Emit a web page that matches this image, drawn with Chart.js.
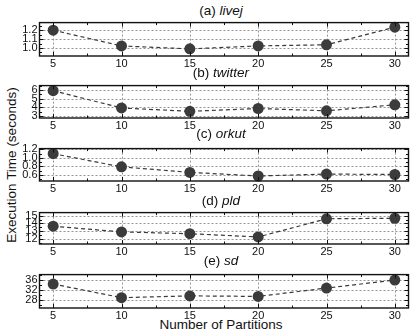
<!DOCTYPE html>
<html>
<head>
<meta charset="utf-8">
<script src="https://cdn.jsdelivr.net/npm/chart.js@4"></script>
<style>
  body { margin: 0; background: #fff; }
  #wrap { position: relative; width: 414px; height: 335px; overflow: hidden; font-family: "Liberation Sans", Arial, sans-serif; color: #111; }
  canvas { position: absolute; left: 0; }
  .ttl { position: absolute; left: 0; width: 442px; text-align: center; font-size: 13.5px; line-height: 14px; }
  #ytitle { position: absolute; left: 11px; top: 165px; font-size: 13.5px; white-space: nowrap; transform: translate(-50%, -50%) rotate(-90deg); }
  #xtitle { position: absolute; left: 0; width: 442px; top: 318px; text-align: center; font-size: 13.5px; line-height: 14px; }
</style>
</head>
<body>
<div id="wrap">
  <div id="ytitle">Execution Time (seconds)</div>
  <div id="xtitle">Number of Partitions</div>
</div>
<script>
const partitions = [5, 10, 15, 20, 25, 30];

const livejTimes = [1.20, 1.023, 0.99, 1.023, 1.036, 1.233];
const twitterTimes = [5.93, 3.93, 3.54, 3.87, 3.60, 4.30];
const orkutTimes = [1.10, 0.79, 0.66, 0.575, 0.62, 0.61];
const pldTimes = [13.64, 12.90, 12.67, 12.25, 14.60, 14.67];
const sdTimes = [34.4, 29.0, 29.7, 29.5, 32.8, 36.0];

const livejTicks = ["1.0", "1.1", "1.2"];
const twitterTicks = ["3", "4", "5", "6"];
const orkutTicks = ["0.6", "0.8", "1.0", "1.2"];
const pldTicks = ["12", "13", "14", "15"];
const sdTicks = ["28", "32", "36"];

const panels = [
  { tag: "(a)", name: "livej", data: livejTimes, ticks: livejTicks, min: 0.91, max: 1.285, top: 17, bottom: 56, title: 11 },
  { tag: "(b)", name: "twitter", data: twitterTimes, ticks: twitterTicks, min: 2.77, max: 6.52, top: 80, bottom: 118, title: 72.5 },
  { tag: "(c)", name: "orkut", data: orkutTimes, ticks: orkutTicks, min: 0.457, max: 1.22, top: 143, bottom: 181, title: 134 },
  { tag: "(d)", name: "pld", data: pldTimes, ticks: pldTicks, min: 11.34, max: 15.4, top: 207, bottom: 244, title: 200.5 },
  { tag: "(e)", name: "sd", data: sdTimes, ticks: sdTicks, min: 24.9, max: 38.15, top: 269, bottom: 308, title: 260.5 }
];

const font = { family: "'Liberation Sans', Arial, sans-serif", size: 11 };

// midpoints between major ticks, plus one beyond each end
const minorsOf = (scale) => {
  const vals = scale.ticks.map(t => t.value);
  const step = vals[1] - vals[0];
  const res = [];
  for (let v = vals[0] - step / 2; v <= vals[vals.length - 1] + step; v += step) {
    if (v >= scale.min && v <= scale.max) res.push(v);
  }
  return res;
};

const frame = {
  id: "frame",
  beforeDatasetsDraw(chart) {
    const { ctx, chartArea: a, scales: { x, y } } = chart;
    ctx.save();
    ctx.strokeStyle = "#949494";
    ctx.lineWidth = 1;
    ctx.setLineDash([2, 2]);
    ctx.beginPath();
    x.ticks.forEach(t => {
      const px = Math.round(x.getPixelForValue(t.value)) + 0.5;
      ctx.moveTo(px, a.top);
      ctx.lineTo(px, a.bottom);
    });
    y.ticks.forEach(t => {
      const py = Math.round(y.getPixelForValue(t.value)) + 0.5;
      ctx.moveTo(a.left, py);
      ctx.lineTo(a.right, py);
    });
    ctx.stroke();
    ctx.restore();
  },
  afterDatasetsDraw(chart) {
    const { ctx, chartArea: a, scales: { x, y } } = chart;
    ctx.save();
    ctx.strokeStyle = "#111";
    ctx.lineWidth = 1;
    ctx.beginPath();
    const xt = (v, len) => {
      const px = Math.round(x.getPixelForValue(v)) + 0.5;
      ctx.moveTo(px, a.bottom); ctx.lineTo(px, a.bottom - len);
      ctx.moveTo(px, a.top); ctx.lineTo(px, a.top + len);
    };
    const yt = (v, len) => {
      const py = Math.round(y.getPixelForValue(v)) + 0.5;
      ctx.moveTo(a.left, py); ctx.lineTo(a.left + len, py);
      ctx.moveTo(a.right, py); ctx.lineTo(a.right - len, py);
    };
    x.ticks.forEach(t => xt(t.value, 4));
    minorsOf(x).forEach(v => xt(v, 2.5));
    y.ticks.forEach(t => yt(t.value, 4));
    minorsOf(y).forEach(v => yt(v, 2.5));
    ctx.stroke();
    ctx.lineWidth = 1.4;
    ctx.strokeRect(a.left, a.top, a.right - a.left, a.bottom - a.top);
    ctx.restore();
  }
};

const wrap = document.getElementById("wrap");

panels.forEach(p => {
  const t = document.createElement("div");
  t.className = "ttl";
  t.style.top = (p.title - 7) + "px";
  t.innerHTML = p.tag + " <i>" + p.name + "</i>";
  wrap.appendChild(t);

  const h = p.bottom - p.top + 3 + 17;
  const cv = document.createElement("canvas");
  cv.width = 414;
  cv.height = h;
  cv.style.top = (p.top - 3) + "px";
  cv.style.width = "414px";
  cv.style.height = h + "px";
  wrap.appendChild(cv);

  new Chart(cv.getContext("2d"), {
    type: "line",
    data: {
      datasets: [{
        data: partitions.map((x, i) => ({ x, y: p.data[i] })),
        borderColor: "#3a3a3a",
        borderWidth: 1.2,
        borderDash: [4, 3],
        pointRadius: 5.5,
        pointBackgroundColor: "#3b3b3b",
        pointBorderWidth: 0,
        fill: false,
        clip: false
      }]
    },
    options: {
      responsive: false,
      animation: false,
      devicePixelRatio: 1,
      layout: { padding: { top: 3, right: 1.5, left: 0, bottom: 0 } },
      plugins: { legend: { display: false }, title: { display: false }, tooltip: { enabled: false } },
      scales: {
        x: {
          type: "linear",
          min: 4,
          max: 31,
          grid: { display: false, drawTicks: false },
          border: { display: false },
          ticks: { font, color: "#111", padding: 1, maxRotation: 0, autoSkip: false },
          afterBuildTicks: s => { s.ticks = partitions.map(v => ({ value: v })); },
          afterFit: s => { s.height = 17; }
        },
        y: {
          type: "linear",
          min: p.min,
          max: p.max,
          grid: { display: false, drawTicks: false },
          border: { display: false },
          ticks: { font, color: "#111", padding: 2, autoSkip: false, callback: (v, i) => p.ticks[i] },
          afterBuildTicks: s => { s.ticks = p.ticks.map(v => ({ value: parseFloat(v) })); },
          afterFit: s => { s.width = 39.5; }
        }
      }
    },
    plugins: [frame]
  });
});
</script>
</body>
</html>
